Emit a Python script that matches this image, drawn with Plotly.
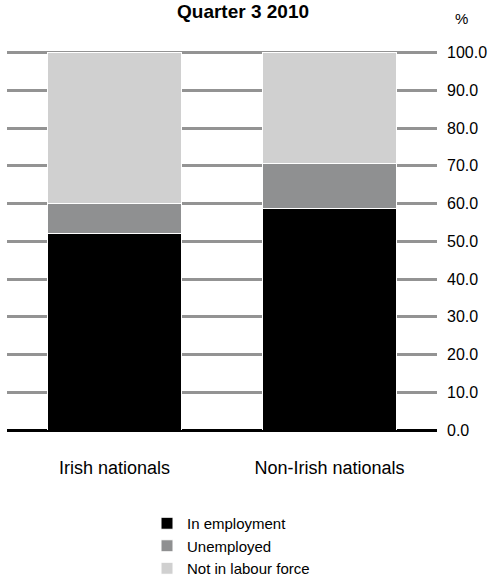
import plotly.graph_objects as go

categories = ["Irish nationals", "Non-Irish nationals"]
in_employment = [52.1, 58.6]
unemployed = [7.9, 12.0]
not_in_labour_force = [40.0, 29.4]
tick_values = [0, 10, 20, 30, 40, 50, 60, 70, 80, 90, 100]

series = [
    ("In employment", in_employment, "#000000"),
    ("Unemployed", unemployed, "#8f9091"),
    ("Not in labour force", not_in_labour_force, "#d0d0d0"),
]

W, H = 501, 581
L, R, T, B = 7, 64, 51, 151
pw, ph = W - L - R, H - T - B

fig = go.Figure()
for name, vals, col in series:
    fig.add_trace(go.Bar(
        x=categories, y=vals, name=name,
        marker=dict(color=col, line=dict(color="white", width=1)),
        width=0.62,
    ))

fig.update_layout(
    width=W, height=H,
    barmode="stack",
    plot_bgcolor="white", paper_bgcolor="white",
    margin=dict(l=L, r=R, t=T, b=B, autoexpand=False),
    font=dict(family="Liberation Sans, Arial, sans-serif", color="black"),
    showlegend=True,
    legend=dict(orientation="v", traceorder="normal",
                x=147 / W, xref="container", y=1 - 507 / H, yref="container",
                yanchor="top", xanchor="left",
                font=dict(size=15), itemwidth=30, bgcolor="rgba(0,0,0,0)"),
)
fig.update_xaxes(showline=False, showgrid=False, ticks="outside", ticklen=21,
                 tickcolor="rgba(0,0,0,0)", tickfont=dict(size=18), tickangle=0,
                 automargin=False)
fig.update_yaxes(range=[0, 100.4], side="right", tickvals=tick_values,
                 tickformat=".1f", showgrid=True, gridcolor="#939393", gridwidth=3,
                 zeroline=True, zerolinecolor="black", zerolinewidth=3,
                 showline=False, ticks="", tickfont=dict(size=16),
                 ticklabelstandoff=9, automargin=False)
fig.add_annotation(text="<b>Quarter 3 2010</b>", x=(243 - L) / pw, y=(H - B - 11) / ph,
                   xref="paper", yref="paper", showarrow=False,
                   font=dict(size=19), xanchor="center", yanchor="middle")
fig.add_annotation(text="%", x=(461 - L) / pw, y=(H - B - 18) / ph, xref="paper", yref="paper",
                   showarrow=False, font=dict(size=15), xanchor="center", yanchor="middle")
fig.write_html("out.html", config={"displayModeBar": False},
               post_script="document.body.style.margin='0';")
